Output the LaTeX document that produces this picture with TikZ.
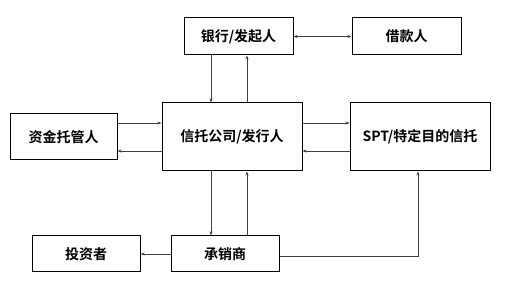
\documentclass[tikz,border=0pt]{standalone}
\usepackage{fontspec}
\newfontfamily\cjk{Noto Sans CJK SC}[BoldFont={Noto Sans CJK SC Bold}]
\usetikzlibrary{positioning,arrows.meta,calc}

\begin{document}
\begin{tikzpicture}[x=1pt,y=1pt,
      box/.style={draw,line width=1pt,minimum width=108pt,minimum height=36pt,inner sep=0pt,font=\cjk\bfseries\fontsize{14}{16}\selectfont},
      bigbox/.style={box,minimum width=140pt,minimum height=68pt},
      link/.style={draw=black!75,line width=0.6pt,-{Stealth[length=4pt,width=3pt]}}]
    \useasboundingbox (0,0) rectangle (512,297);
    \node[box,minimum width=109pt,minimum height=37pt] (bank) at (238.5,260.5) {银行/发起人};
    \node[box,minimum width=109pt,minimum height=37pt] (borrower) at (406.5,260.5) {借款人};
    \node[bigbox] (trust) at (232,160) {信托公司/发行人};
    \node[box,minimum width=107pt,minimum height=46pt] (custodian) at (63.5,160) {资金托管人};
    \node[bigbox] (spt) at (420,160) {SPT/特定目的信托};
    \node[box] (investor) at (86,43) {投资者};
    \node[box] (under) at (225,43) {承销商};
    % bank and borrower
    \draw[link,{Stealth[length=4pt,width=3pt]}-{Stealth[length=4pt,width=3pt]}] (bank) -- (borrower);
    % bank and trust
    \draw[link] ([xshift=-27.5pt]bank.south) -- ([xshift=-27.5pt]bank.south |- trust.north);
    \draw[link] ([xshift=15pt]trust.north) -- ([xshift=15pt]trust.north |- bank.south);
    % custodian and trust
    \draw[link] ([yshift=14pt]custodian.east) -- ([yshift=14pt]custodian.east -| trust.west);
    \draw[link] ([yshift=-14pt]trust.west) -- ([yshift=-14pt]trust.west -| custodian.east);
    % trust and spt
    \draw[link] ([yshift=14pt]trust.east) -- ([yshift=14pt]trust.east -| spt.west);
    \draw[link] ([yshift=-14pt]spt.west) -- ([yshift=-14pt]spt.west -| trust.east);
    % trust and underwriter
    \draw[link] ([xshift=-21pt]trust.south) -- ([xshift=-21pt]trust.south |- under.north);
    \draw[link] ([xshift=15pt]trust.south |- under.north) -- ([xshift=15pt]trust.south);
    % underwriter to investor and spt
    \draw[link] (under) -- (investor);
    \draw[link] ([yshift=-2pt]under.east) -| ([xshift=-2pt]spt.south);
  \end{tikzpicture}
\end{document}
